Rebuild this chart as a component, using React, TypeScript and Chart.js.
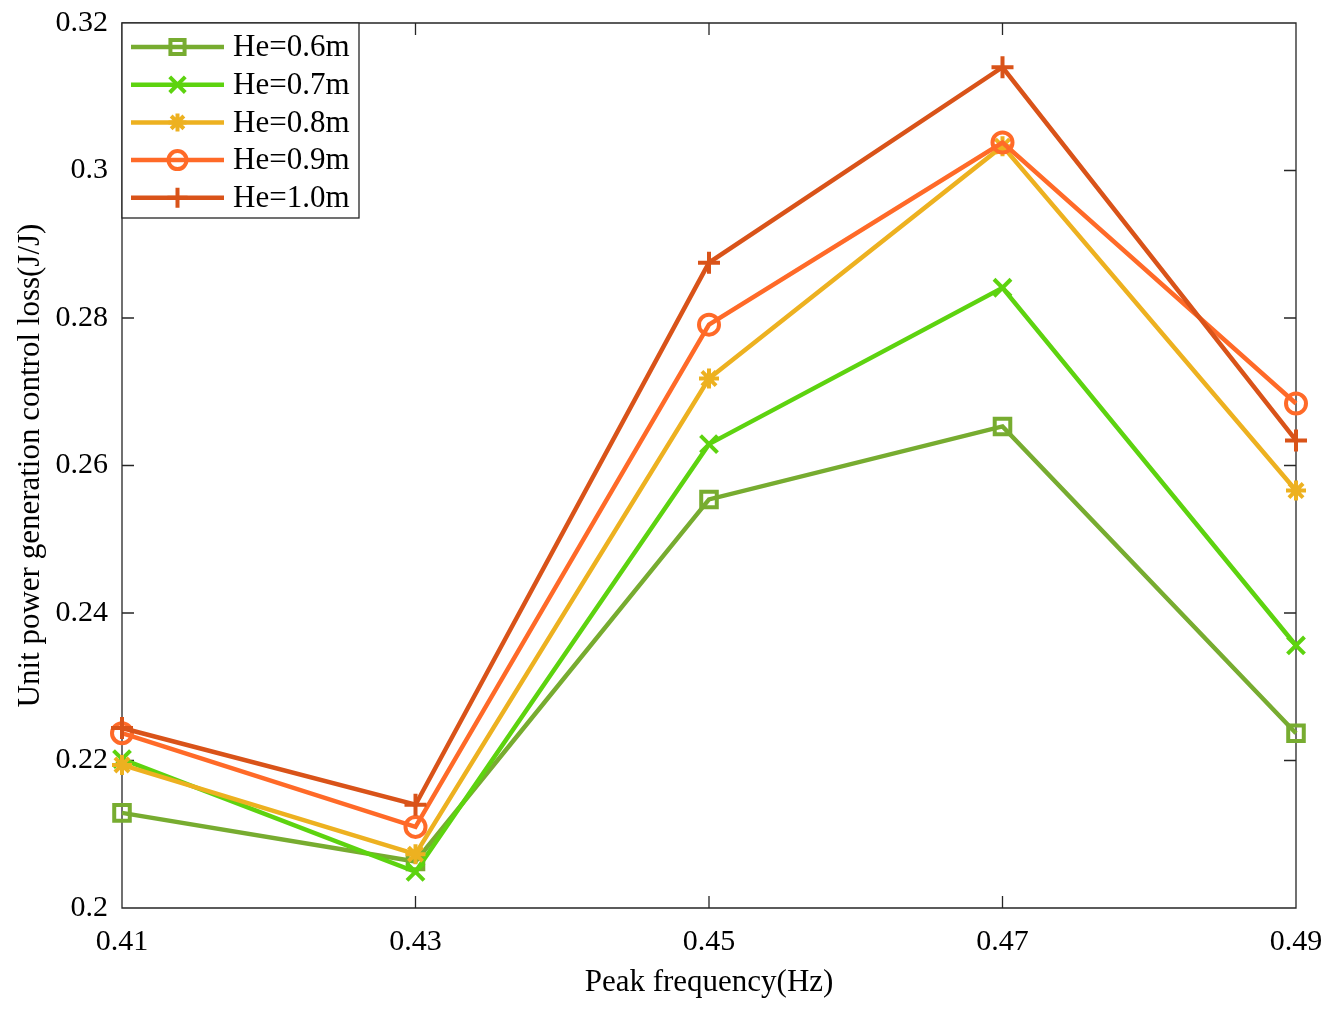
import { useEffect, useRef } from "react";
import { Chart, registerables } from "chart.js";
import * as helpers from "chart.js/helpers";

Chart.register(...registerables);

// peak frequency categories (Hz)
const frequencies = ["0.41", "0.43", "0.45", "0.47", "0.49"];

// unit power generation control loss (J/J), one list per He
const he06 = [0.2129, 0.2063, 0.2554, 0.2653, 0.2237];
const he07 = [0.2202, 0.2049, 0.2629, 0.2841, 0.2356];
const he08 = [0.2194, 0.2073, 0.2718, 0.3033, 0.2566];
const he09 = [0.2237, 0.211, 0.2791, 0.3038, 0.2684];
const he10 = [0.2244, 0.214, 0.2875, 0.314, 0.2634];

const seriesNames = ["He=0.6m", "He=0.7m", "He=0.8m", "He=0.9m", "He=1.0m"];
const seriesValues = [he06, he07, he08, he09, he10];
const seriesColors = ["#77AC30", "#5DD30F", "#EDB120", "#FF6A28", "#D95319"];
const seriesMarkers = ["rect", "crossRot", "star", "circle", "cross"];
const markerRadius = [11, 12, 10, 10, 11];

const yMin = 0.2;
const yMax = 0.32;
const yStep = 0.02;

const FONT = "'Liberation Serif', 'Times New Roman', serif";
const AXIS_COLOR = "#262626";

const boxPlugin = {
  id: "matlabBox",
  beforeDatasetsDraw(chart: any) {
    const { ctx, chartArea } = chart;
    const { left, right, top, bottom } = chartArea;
    const xs = chart.scales.x;
    const ys = chart.scales.y;
    const tick = 12;
    ctx.save();
    ctx.strokeStyle = AXIS_COLOR;
    ctx.lineWidth = 1.3;
    ctx.beginPath();
    ctx.rect(left, top, right - left, bottom - top);
    xs.ticks.forEach((_: any, i: number) => {
      const px = xs.getPixelForTick(i);
      ctx.moveTo(px, bottom);
      ctx.lineTo(px, bottom - tick);
      ctx.moveTo(px, top);
      ctx.lineTo(px, top + tick);
    });
    ys.ticks.forEach((_: any, i: number) => {
      const py = ys.getPixelForTick(i);
      ctx.moveTo(left, py);
      ctx.lineTo(left + tick, py);
      ctx.moveTo(right, py);
      ctx.lineTo(right - tick, py);
    });
    ctx.stroke();
    ctx.restore();
  },
  afterDraw(chart: any) {
    const { ctx, chartArea } = chart;
    const bx = chartArea.left;
    const by = chartArea.top;
    const bw = 237;
    const bh = 195;
    ctx.save();
    ctx.fillStyle = "#ffffff";
    ctx.fillRect(bx, by, bw, bh);
    ctx.strokeStyle = AXIS_COLOR;
    ctx.lineWidth = 1.3;
    ctx.strokeRect(bx, by, bw, bh);
    ctx.font = `31px ${FONT}`;
    ctx.textBaseline = "middle";
    chart.data.datasets.forEach((ds: any, i: number) => {
      const y = by + 24 + i * 37.7;
      ctx.strokeStyle = ds.borderColor;
      ctx.lineWidth = ds.borderWidth;
      ctx.beginPath();
      ctx.moveTo(bx + 9, y);
      ctx.lineTo(bx + 102, y);
      ctx.stroke();
      ctx.lineWidth = ds.pointBorderWidth;
      ctx.fillStyle = "rgba(0,0,0,0)";
      helpers.drawPoint(
        ctx,
        { pointStyle: ds.pointStyle, radius: ds.pointRadius - 1, rotation: 0, borderWidth: ds.pointBorderWidth },
        bx + 55.5,
        y
      );
      ctx.fillStyle = "#000000";
      ctx.fillText(ds.label, bx + 111, y + 1);
    });
    ctx.restore();
  },
};

export default function App() {
  const chartRef = useRef<HTMLCanvasElement>(null);
  const chartInstance = useRef<Chart | null>(null);

  useEffect(() => {
    if (!chartRef.current) return;
    if (chartInstance.current) {
      chartInstance.current.destroy();
    }
    const ctx = chartRef.current.getContext("2d");
    if (!ctx) return;

    chartInstance.current = new Chart(ctx, {
      type: "line",
      data: {
        labels: frequencies,
        datasets: seriesNames.map((name, i) => ({
          label: name,
          data: seriesValues[i],
          borderColor: seriesColors[i],
          backgroundColor: "rgba(0,0,0,0)",
          borderWidth: 4.5,
          pointStyle: seriesMarkers[i] as any,
          pointRadius: markerRadius[i],
          pointBorderWidth: 4,
          pointBorderColor: seriesColors[i],
          pointBackgroundColor: "rgba(0,0,0,0)",
          tension: 0,
          clip: false as any,
          order: seriesNames.length - i,
        })),
      },
      plugins: [boxPlugin],
      options: {
        animation: false,
        responsive: true,
        maintainAspectRatio: false,
        layout: { padding: { top: 23, right: 39, bottom: 0, left: 0 } },
        plugins: {
          legend: { display: false },
          tooltip: { enabled: false },
        },
        scales: {
          x: {
            type: "category",
            offset: false,
            grid: { display: false, drawTicks: false },
            border: { display: false },
            ticks: {
              color: "#000000",
              font: { family: FONT, size: 30 },
              padding: 16,
              maxRotation: 0,
            },
            title: {
              display: true,
              text: "Peak frequency(Hz)",
              color: "#000000",
              font: { family: FONT, size: 31 },
              padding: { top: 0, bottom: 18 },
            },
            afterFit(scale: any) {
              scale.height = 111;
              scale.paddingLeft = 0;
              scale.paddingRight = 0;
            },
          },
          y: {
            type: "linear",
            min: yMin,
            max: yMax,
            grid: { display: false, drawTicks: false },
            border: { display: false },
            ticks: {
              stepSize: yStep,
              color: "#000000",
              font: { family: FONT, size: 30 },
              padding: 14,
              callback: (v: any) => String(Number(Number(v).toFixed(2))),
            },
            title: {
              display: true,
              text: "Unit power generation control loss(J/J)",
              color: "#000000",
              font: { family: FONT, size: 31 },
              padding: { top: 12, bottom: 0 },
            },
            afterFit(scale: any) {
              scale.width = 122;
              scale.paddingTop = 0;
              scale.paddingBottom = 0;
            },
          },
        },
      },
    });

    return () => {
      if (chartInstance.current) {
        chartInstance.current.destroy();
        chartInstance.current = null;
      }
    };
  }, []);

  return (
    <div style={{ position: "absolute", left: 0, top: 0, width: 1335, height: 1019, background: "#ffffff" }}>
      <canvas ref={chartRef}></canvas>
    </div>
  );
}
